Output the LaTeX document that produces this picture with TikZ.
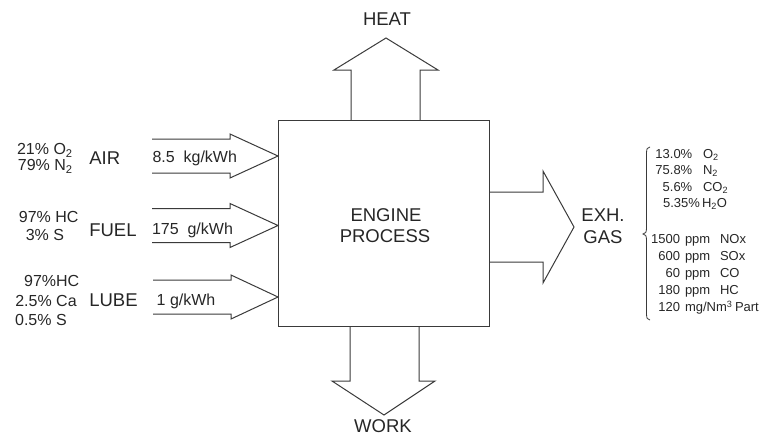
\documentclass[tikz,border=0pt]{standalone}
\usepackage{fontspec}
\setmainfont{Liberation Sans}
\definecolor{linecol}{HTML}{3A3A3A}
\definecolor{textcol}{HTML}{262626}
\begin{document}
\begin{tikzpicture}[x=1pt,y=-1pt,
  blockline/.style={draw=linecol,line width=1pt,line join=miter},
  bigtxt/.style={font=\fontsize{18.5}{21}\selectfont,text=textcol,inner sep=0pt,outer sep=0pt},
  midtxt/.style={font=\fontsize{16}{18}\selectfont,text=textcol,inner sep=0pt,outer sep=0pt},
  smalltxt/.style={font=\fontsize{13}{15}\selectfont,text=textcol,inner sep=0pt,outer sep=0pt}]
\useasboundingbox (0,0) rectangle (766,437);

% engine box
\node[blockline,minimum width=211pt,minimum height=205.5pt,inner sep=0pt,outer sep=0pt] (engine) at (383.5,223.25) {};
\node[bigtxt,anchor=base] (eng1) at (386,221.7) {ENGINE};
\node[bigtxt,anchor=base] (eng2) at (385,242.7) {PROCESS};

% input arrows
\draw[blockline] (152,139) -- (230,139) -- (230,134) -- (278,156) -- (230,178) -- (230,173) -- (152,173);
\draw[blockline] (152,208.5) -- (230,208.5) -- (230,203.5) -- (278,225.5) -- (230,247.5) -- (230,242.5) -- (152,242.5);
\draw[blockline] (153,280) -- (231,280) -- (231,275) -- (278,297) -- (231,319) -- (231,314) -- (153,314);

% heat arrow
\draw[blockline] (351,120.5) -- (351,70) -- (334,70) -- (386,38) -- (438,70) -- (420,70) -- (420,120.5);
% work arrow
\draw[blockline] (350,326) -- (350,381) -- (332,381) -- (384,415) -- (435,381) -- (419,381) -- (419,326);
% exhaust arrow
\draw[blockline] (489,192) -- (543,192) -- (543,171) -- (574,227) -- (543,283) -- (543,262) -- (489,262);

% brace
\draw[draw=linecol,line width=0.8pt] (650,147) .. controls (647.5,147) and (646.5,149) .. (646.5,153) -- (646.5,228) .. controls (646.5,232) and (645.5,234) .. (643,234) .. controls (645.5,234) and (646.5,236) .. (646.5,240) -- (646.5,314) .. controls (646.5,318) and (647.5,320) .. (650,320);

% big labels
\node[bigtxt,anchor=base] (heat) at (387,25.7) {HEAT};
\node[bigtxt,anchor=base] (work) at (383,432.8) {WORK};
\node[bigtxt,anchor=base] (exh) at (603,221.7) {EXH.};
\node[bigtxt,anchor=base] (gas) at (603,243.4) {GAS};
\node[bigtxt,anchor=base west] (air) at (89.3,164) {AIR};
\node[bigtxt,anchor=base west] (fuel) at (89.3,236.7) {FUEL};
\node[bigtxt,anchor=base west] (lube) at (89.3,306.7) {LUBE};

% left compositions
\node[midtxt,anchor=base east] (airA) at (72.7,154.8) {21\% O\textsubscript{2}};
\node[midtxt,anchor=base east] (airB) at (72.7,170.8) {79\% N\textsubscript{2}};
\node[midtxt,anchor=base east] (fuelA) at (78.5,222.5) {97\% HC};
\node[midtxt,anchor=base east] (fuelB) at (64,240.3) {3\% S};
\node[midtxt,anchor=base east] (lubeA) at (79.3,286.8) {97\%HC};
\node[midtxt,anchor=base east] (lubeB) at (76.7,306.8) {2.5\% Ca};
\node[midtxt,anchor=base east] (lubeC) at (66.7,325.8) {0.5\% S};

% flow rates
\node[midtxt,anchor=base west] (airF) at (152.5,162) {8.5\ \ kg/kWh};
\node[midtxt,anchor=base west] (fuelF) at (152,234.1) {175\ \ g/kWh};
\node[midtxt,anchor=base west] (lubeF) at (156.7,305.8) {1 g/kWh};

% exhaust composition
\node[smalltxt,anchor=base east] (p1) at (692.3,158.2) {13.0\%};
\node[smalltxt,anchor=base west] (g1) at (703,158.2) {O\textsubscript{2}};
\node[smalltxt,anchor=base east] (p2) at (692.3,174.7) {75.8\%};
\node[smalltxt,anchor=base west] (g2) at (703,174.7) {N\textsubscript{2}};
\node[smalltxt,anchor=base east] (p3) at (692.3,191.2) {5.6\%};
\node[smalltxt,anchor=base west] (g3) at (703,191.2) {CO\textsubscript{2}};
\node[smalltxt,anchor=base east] (p4) at (700,207.7) {5.35\%};
\node[smalltxt,anchor=base west] (g4) at (702,207.7) {H\textsubscript{2}O};

\node[smalltxt,anchor=base east] (n1) at (680,243.7) {1500};
\node[smalltxt,anchor=base west] (u1) at (685,243.7) {ppm};
\node[smalltxt,anchor=base west] (s1) at (720,243.7) {NOx};
\node[smalltxt,anchor=base east] (n2) at (680,260.7) {600};
\node[smalltxt,anchor=base west] (u2) at (685,260.7) {ppm};
\node[smalltxt,anchor=base west] (s2) at (720,260.7) {SOx};
\node[smalltxt,anchor=base east] (n3) at (680,277.7) {60};
\node[smalltxt,anchor=base west] (u3) at (685,277.7) {ppm};
\node[smalltxt,anchor=base west] (s3) at (720,277.7) {CO};
\node[smalltxt,anchor=base east] (n4) at (680,294.7) {180};
\node[smalltxt,anchor=base west] (u4) at (685,294.7) {ppm};
\node[smalltxt,anchor=base west] (s4) at (720,294.7) {HC};
\node[smalltxt,anchor=base east] (n5) at (680,311.7) {120};
\node[smalltxt,anchor=base west] (u5) at (685,311.7) {mg/Nm\textsuperscript{3}};
\node[smalltxt,anchor=base west] (s5) at (735,311.7) {Part};
\end{tikzpicture}
\end{document}
